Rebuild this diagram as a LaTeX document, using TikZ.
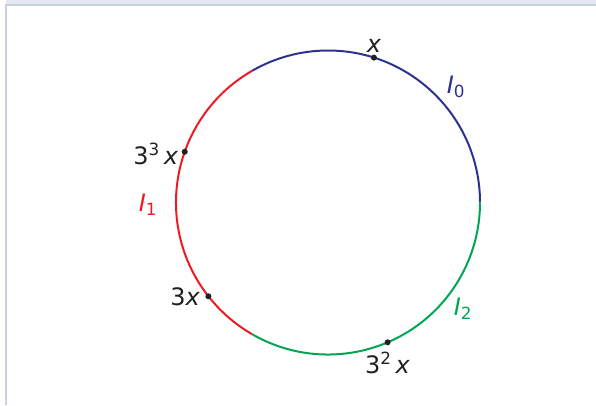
\documentclass[tikz,border=0pt]{standalone}
\usepackage{fontspec}
\setmainfont{DejaVu Sans}
\usetikzlibrary{positioning}
\definecolor{arcblue}{RGB}{46,49,146}
\definecolor{arcred}{RGB}{237,28,36}
\definecolor{arcgreen}{RGB}{0,166,81}
\definecolor{framefill}{RGB}{226,231,243}
\definecolor{frameline}{RGB}{200,208,228}
\definecolor{ink}{RGB}{35,31,32}

\begin{document}
\begin{tikzpicture}[x=1pt, y=1pt,
    arcline/.style={line width=2pt},
    dot/.style={circle, fill=ink, inner sep=0pt, minimum size=6pt},
    lbl/.style={font=\fontsize{24}{28}\selectfont, text=ink, inner sep=1pt}]
    \useasboundingbox (0,0) rectangle (596,405);
    % window frame
    \fill[framefill] (6,400) rectangle (596,405);
    \draw[frameline, line width=2pt] (5.7,0) -- (5.7,400.2) -- (596,400.2);

    \coordinate (c) at (328,202.5);
    \def\rad{152}
    % the three arcs
    \draw[arcline, arcblue]  ([shift={(0:\rad)}]c)   arc[start angle=0,   end angle=120, radius=\rad];
    \draw[arcline, arcred]   ([shift={(120:\rad)}]c) arc[start angle=120, end angle=240, radius=\rad];
    \draw[arcline, arcgreen] ([shift={(240:\rad)}]c) arc[start angle=240, end angle=360, radius=\rad];

    % orbit points
    \node[dot] (p0) at ([shift={(72.4:\rad)}]c) {};
    \node[dot] (p1) at ([shift={(218.1:\rad)}]c) {};
    \node[dot] (p2) at ([shift={(293.1:\rad)}]c) {};
    \node[dot] (p3) at ([shift={(160.5:\rad)}]c) {};

    \node[lbl, above=1pt of p0] (lx) {\textit{x}};
    \node[lbl, left=4pt of p1] (l3x) {3\textit{x}};
    \node[lbl, below=5pt of p2] (l9x) {3\textsuperscript{2}\,\textit{x}};
    \node[lbl, left=2pt of p3, yshift=-2pt] (l27x) {3\textsuperscript{3}\,\textit{x}};

    % arc names
    \node[lbl, text=arcblue]  (i0) at (456,318) {\textit{I}\textsubscript{0}};
    \node[lbl, text=arcred]   (i1) at (148,200) {\textit{I}\textsubscript{1}};
    \node[lbl, text=arcgreen] (i2) at (463,96)  {\textit{I}\textsubscript{2}};
\end{tikzpicture}
\end{document}
